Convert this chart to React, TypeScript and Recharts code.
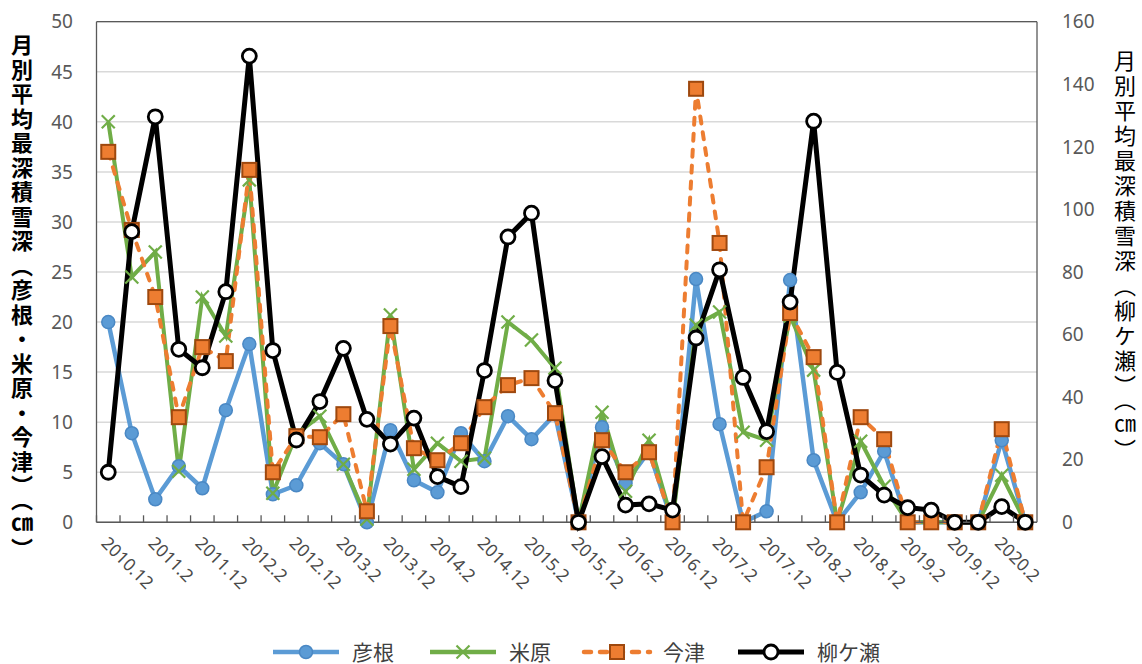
import React from 'react';
import { CartesianGrid, Legend, Line, LineChart, ReferenceLine, XAxis, YAxis } from 'recharts';

// 冬季(12〜3月)ごとの月別平均最深積雪深
const months = [
  '2010.12', '2011.1', '2011.2', '2011.3',
  '2011.12', '2012.1', '2012.2', '2012.3',
  '2012.12', '2013.1', '2013.2', '2013.3',
  '2013.12', '2014.1', '2014.2', '2014.3',
  '2014.12', '2015.1', '2015.2', '2015.3',
  '2015.12', '2016.1', '2016.2', '2016.3',
  '2016.12', '2017.1', '2017.2', '2017.3',
  '2017.12', '2018.1', '2018.2', '2018.3',
  '2018.12', '2019.1', '2019.2', '2019.3',
  '2019.12', '2020.1', '2020.2', '2020.3',
];

const hikone = [
  20.0, 8.9, 2.3, 5.6, 3.4, 11.2, 17.8, 2.8, 3.7, 7.9,
  5.8, 0, 9.2, 4.2, 3.0, 8.9, 6.1, 10.6, 8.3, 10.8,
  0, 9.5, 3.9, 7.1, 0, 24.3, 9.8, 0, 1.1, 24.2,
  6.2, 0, 3.0, 7.1, 0, 0, 0, 0, 8.2, 0,
];
const maibara = [
  40.0, 24.5, 27.0, 5.1, 22.5, 18.6, 34.2, 2.9, 8.8, 10.6,
  5.8, 0.3, 20.7, 5.3, 7.9, 6.1, 6.4, 20.0, 18.2, 15.4,
  0, 11.0, 3.1, 8.2, 0, 19.7, 21.0, 9.0, 8.2, 20.6,
  15.2, 0, 8.1, 3.6, 0, 0, 0, 0, 4.7, 0,
];
const imazu = [
  37.0, 29.2, 22.5, 10.5, 17.5, 16.1, 35.2, 5.0, 8.6, 8.5,
  10.8, 1.1, 19.6, 7.4, 6.2, 7.9, 11.5, 13.7, 14.4, 10.9,
  0, 8.2, 5.0, 7.0, 0, 43.3, 27.9, 0, 5.5, 20.9,
  16.5, 0, 10.5, 8.3, 0, 0, 0, 0, 9.3, 0,
];
const yanagase = [
  16.0, 92.9, 129.6, 55.3, 49.4, 73.7, 149.0, 54.9, 26.3, 38.6,
  55.6, 32.9, 25.0, 33.3, 14.6, 11.4, 48.5, 91.2, 98.8, 45.3,
  0, 21.0, 5.5, 5.9, 3.9, 58.9, 80.7, 46.3, 29.0, 70.4,
  128.2, 47.9, 15.1, 8.7, 4.7, 3.9, 0, 0, 5.0, 0,
];

const leftTicks = [0, 5, 10, 15, 20, 25, 30, 35, 40, 45, 50];
const rightTicks = [0, 20, 40, 60, 80, 100, 120, 140, 160];

const data = months.map((m, i) => ({
  month: m,
  彦根: hikone[i],
  米原: maibara[i],
  今津: imazu[i],
  柳ケ瀬: yanagase[i],
}));

const W = 1142;
const H = 664;
const PLOT_LEFT = 96.5;
const PLOT_RIGHT = 1037;
const PLOT_TOP = 21.7;
const PLOT_BOTTOM = 522.3;
const LEGEND_H = 34;
const HALF = (PLOT_RIGHT - PLOT_LEFT) / months.length / 2;

const GRAY = '#595959';
const NUM_FONT = '"Noto Sans", "DejaVu Sans", sans-serif';
const JP_FONT = '"Noto Sans CJK JP", sans-serif';

const BLUE = '#5B9BD5';
const GREEN = '#70AD47';
const ORANGE = '#ED7D31';

const CircleDot = (p: any) => {
  if (p.cx == null || p.cy == null) return <g key={p.index} />;
  return <circle key={p.index} cx={p.cx} cy={p.cy} r={6.5} fill={BLUE} stroke="#4A88C4" strokeWidth={1.5} />;
};

const CrossDot = (p: any) => {
  if (p.cx == null || p.cy == null) return <g key={p.index} />;
  const s = 6.5;
  return (
    <g key={p.index} stroke={GREEN} strokeWidth={2.2}>
      <line x1={p.cx - s} y1={p.cy - s} x2={p.cx + s} y2={p.cy + s} />
      <line x1={p.cx - s} y1={p.cy + s} x2={p.cx + s} y2={p.cy - s} />
    </g>
  );
};

const SquareDot = (p: any) => {
  if (p.cx == null || p.cy == null) return <g key={p.index} />;
  return <rect key={p.index} x={p.cx - 7} y={p.cy - 7} width={14} height={14} fill={ORANGE} stroke="#9E480E" strokeWidth={2} />;
};

const HollowDot = (p: any) => {
  if (p.cx == null || p.cy == null) return <g key={p.index} />;
  return <circle key={p.index} cx={p.cx} cy={p.cy} r={7} fill="#fff" stroke="#000" strokeWidth={2.8} />;
};

const XTick = (props: any) => {
  const { x, y, index, payload } = props;
  const tx = x - 8;
  const ty = y + 22;
  return (
    <g>
      <line x1={x - HALF} y1={y} x2={x - HALF} y2={y - 7} stroke={GRAY} strokeWidth={1.3} />
      {index % 2 === 0 && (
        <text
          x={tx}
          y={ty}
          transform={`rotate(45, ${tx}, ${ty})`}
          textAnchor="start"
          fontSize={17.5}
          fontFamily={NUM_FONT}
          fill="#4A4A4A"
        >
          {payload.value}
        </text>
      )}
    </g>
  );
};

const legendItems = [
  { name: '彦根', color: BLUE, dash: undefined, marker: 'circle' },
  { name: '米原', color: GREEN, dash: undefined, marker: 'cross' },
  { name: '今津', color: ORANGE, dash: '7 9', marker: 'square' },
  { name: '柳ケ瀬', color: '#000', dash: undefined, marker: 'hollow' },
];
const legendStarts = [273, 430, 584, 738];

const LegendMarker = ({ marker, color, cx, cy }: any) => {
  if (marker === 'circle') return <circle cx={cx} cy={cy} r={6.5} fill={BLUE} stroke="#4A88C4" strokeWidth={1.5} />;
  if (marker === 'cross')
    return (
      <g stroke={color} strokeWidth={2.2}>
        <line x1={cx - 6.5} y1={cy - 6.5} x2={cx + 6.5} y2={cy + 6.5} />
        <line x1={cx - 6.5} y1={cy + 6.5} x2={cx + 6.5} y2={cy - 6.5} />
      </g>
    );
  if (marker === 'square') return <rect x={cx - 7} y={cy - 7} width={14} height={14} fill={ORANGE} stroke="#9E480E" strokeWidth={2} />;
  return <circle cx={cx} cy={cy} r={7} fill="#fff" stroke="#000" strokeWidth={2.8} />;
};

const LegendContent = () => {
  const cy = LEGEND_H / 2;
  return (
    <svg width={W} height={LEGEND_H} style={{ display: 'block', overflow: 'visible' }}>
      {legendItems.map((it, i) => {
        const x0 = legendStarts[i];
        return (
          <g key={it.name}>
            <line
              x1={x0}
              y1={cy}
              x2={x0 + 66}
              y2={cy}
              stroke={it.color}
              strokeWidth={it.marker === 'hollow' ? 5 : 4.5}
              strokeDasharray={it.dash}
              strokeLinecap={it.dash ? 'round' : 'butt'}
            />
            <LegendMarker marker={it.marker} color={it.color} cx={x0 + 33} cy={cy} />
            <text x={x0 + 79} y={cy} dy="0.36em" fontSize={21} fontFamily={JP_FONT} fill="#404040">
              {it.name}
            </text>
          </g>
        );
      })}
    </svg>
  );
};

const titleStyle: React.CSSProperties = {
  position: 'absolute',
  writingMode: 'vertical-rl',
  fontFamily: JP_FONT,
  fontSize: 22,
  lineHeight: 1,
  color: '#000',
  whiteSpace: 'nowrap',
};

export default function App() {
  return (
    <div style={{ position: 'absolute', left: 0, top: 0, width: W, height: H, background: '#fff' }}>
      <LineChart
        width={W}
        height={H}
        data={data}
        margin={{ top: PLOT_TOP, right: 0, left: 0, bottom: 0 }}
      >
        <CartesianGrid yAxisId="left" vertical={false} stroke="#D9D9D9" strokeWidth={1.5} />
        <XAxis
          dataKey="month"
          interval={0}
          height={H - PLOT_BOTTOM - LEGEND_H}
          padding={{ left: HALF, right: HALF }}
          tickLine={false}
          tickSize={0}
          tickMargin={0}
          axisLine={{ stroke: GRAY, strokeWidth: 1.5 }}
          tick={<XTick />}
        />
        <YAxis
          yAxisId="left"
          width={PLOT_LEFT}
          domain={[0, 50]}
          ticks={leftTicks}
          interval={0}
          tickLine={false}
          tickSize={0}
          tickMargin={23.5}
          axisLine={{ stroke: GRAY, strokeWidth: 1.3 }}
          tick={{ fontSize: 19, fill: GRAY, fontFamily: NUM_FONT }}
        />
        <YAxis
          yAxisId="right"
          orientation="right"
          width={W - PLOT_RIGHT}
          domain={[0, 160]}
          ticks={rightTicks}
          interval={0}
          tickLine={false}
          tickSize={0}
          tickMargin={25}
          axisLine={{ stroke: GRAY, strokeWidth: 1.3 }}
          tick={{ fontSize: 19, fill: GRAY, fontFamily: NUM_FONT }}
        />
        <ReferenceLine yAxisId="left" y={50} stroke={GRAY} strokeWidth={1.3} />
        <Legend
          verticalAlign="bottom"
          height={LEGEND_H}
          width={W}
          wrapperStyle={{ left: 0, top: 635 }}
          content={<LegendContent />}
        />
        <Line
          yAxisId="left"
          type="linear"
          dataKey="彦根"
          stroke={BLUE}
          strokeWidth={4.5}
          dot={CircleDot}
          activeDot={false}
          isAnimationActive={false}
        />
        <Line
          yAxisId="left"
          type="linear"
          dataKey="米原"
          stroke={GREEN}
          strokeWidth={4}
          dot={CrossDot}
          activeDot={false}
          isAnimationActive={false}
        />
        <Line
          yAxisId="left"
          type="linear"
          dataKey="今津"
          stroke={ORANGE}
          strokeWidth={4}
          strokeDasharray="7 9"
          strokeLinecap="round"
          dot={SquareDot}
          activeDot={false}
          isAnimationActive={false}
        />
        <Line
          yAxisId="right"
          type="linear"
          dataKey="柳ケ瀬"
          stroke="#000"
          strokeWidth={5}
          dot={HollowDot}
          activeDot={false}
          isAnimationActive={false}
        />
      </LineChart>
      <div style={{ ...titleStyle, left: 11, top: 34, fontWeight: 700, letterSpacing: 2.5 }}>
        月別平均最深積雪深（彦根・米原・今津）（㎝）
      </div>
      <div style={{ ...titleStyle, left: 1114, top: 50, fontWeight: 400, letterSpacing: 3 }}>
        月別平均最深積雪深（柳ケ瀬）（㎝）
      </div>
    </div>
  );
}
